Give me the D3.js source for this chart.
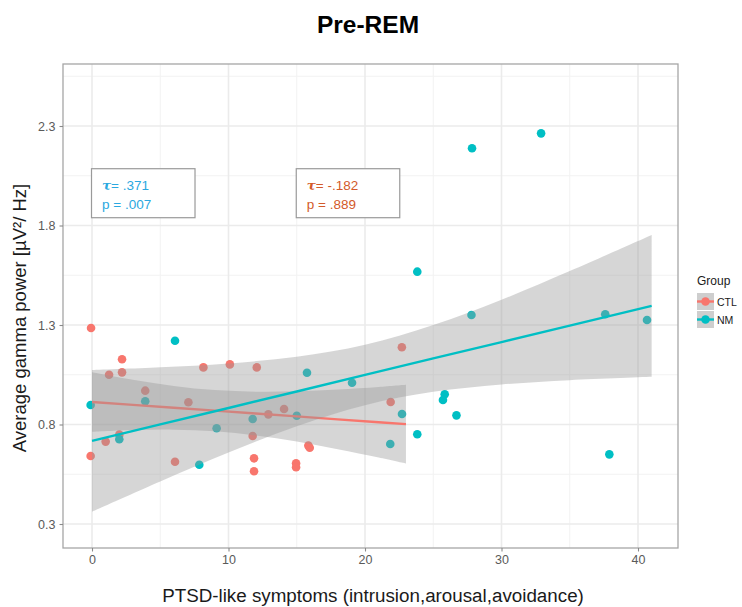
<!DOCTYPE html>
<html><head><meta charset="utf-8">
<script src="https://cdn.jsdelivr.net/npm/d3@7"></script>
<style>body{margin:0;background:#fff;} svg{display:block;font-family:"Liberation Sans",Arial,sans-serif;}</style>
</head><body><svg id="c" width="742" height="607"></svg>
<script>
// ---- data (points are jittered positions) ----
const ctlX = [-0.07,2.2,1.25,2.2,8.16,10.1,12.07,22.7,3.9,7.06,21.88,14.07,12.92,11.77,2.0,1.0,-0.1,6.08,11.87,11.87,15.85,15.95,14.95,14.95];
const ctlY = [1.285,1.128,1.050,1.062,1.087,1.102,1.087,1.188,0.970,0.912,0.913,0.878,0.851,0.742,0.749,0.714,0.642,0.613,0.630,0.565,0.694,0.683,0.605,0.585];
const nmX = [32.9,27.84,23.83,27.8,37.6,40.66,6.08,15.75,19.05,25.84,25.71,-0.1,3.9,22.71,26.7,15.0,11.77,9.13,23.83,2.0,21.85,7.86,37.9];
const nmY = [2.263,2.188,1.568,1.350,1.354,1.325,1.221,1.060,1.010,0.952,0.923,0.898,0.917,0.853,0.846,0.844,0.828,0.781,0.751,0.726,0.702,0.598,0.650];
// fitted lines and confidence ribbons
const ctlFitX = [0,3,6,9,12,15,18,21,23];
const ctlFit  = [0.913,0.8985,0.884,0.8695,0.855,0.8406,0.826,0.8116,0.802];
const ctlHi   = [1.063,1.025,0.994,0.973,0.965,0.967,0.976,0.989,1.000];
const ctlLo   = [0.763,0.772,0.774,0.766,0.745,0.714,0.676,0.634,0.604];
const nmFitX  = [0,5,10,15,20,25,30,35,41];
const nmFit   = [0.718,0.801,0.883,0.966,1.049,1.132,1.214,1.297,1.396];
const nmHi    = [1.074,1.088,1.107,1.141,1.201,1.300,1.427,1.571,1.752];
const nmLo    = [0.362,0.514,0.659,0.791,0.897,0.964,1.001,1.023,1.040];
const xTicks = [0,10,20,30,40];
const yTicks = [0.3,0.8,1.3,1.8,2.3];
const groups = ["CTL","NM"];
const colors = ["#F8766D","#00BFC4"];
const annotations = [
  {tau:".371", p:".007", color:"#2AA8E0", x:0, y:2.0},
  {tau:"-.182", p:".889", color:"#D35A2A", x:15, y:2.0}
];

const svg = d3.select("#c");
const P = {l:63, r:678, t:64, b:548};
const x = d3.scaleLinear().domain([-2.125, 42.93]).range([P.l, P.r]);
const y = d3.scaleLinear().domain([0.1794, 2.6116]).range([P.b, P.t]);

// grid
const g = svg.append("g");
const xMinor = [5,15,25,35], yMinor = [0.55,1.05,1.55,2.05,2.55];
g.selectAll(".xm").data(xMinor).join("line").attr("x1",d=>x(d)).attr("x2",d=>x(d)).attr("y1",P.t).attr("y2",P.b).attr("stroke","#F2F2F2").attr("stroke-width",1);
g.selectAll(".ym").data(yMinor).join("line").attr("x1",P.l).attr("x2",P.r).attr("y1",d=>y(d)).attr("y2",d=>y(d)).attr("stroke","#F2F2F2").attr("stroke-width",1);
g.selectAll(".xM").data(xTicks).join("line").attr("x1",d=>x(d)).attr("x2",d=>x(d)).attr("y1",P.t).attr("y2",P.b).attr("stroke","#EBEBEB").attr("stroke-width",1.6);
g.selectAll(".yM").data(yTicks).join("line").attr("x1",P.l).attr("x2",P.r).attr("y1",d=>y(d)).attr("y2",d=>y(d)).attr("stroke","#EBEBEB").attr("stroke-width",1.6);

// points
const pts = svg.append("g");
pts.selectAll(".c").data(ctlX.map((v,i)=>[v,ctlY[i]])).join("circle").attr("cx",d=>x(d[0])).attr("cy",d=>y(d[1])).attr("r",4.3).attr("fill",colors[0]);
pts.selectAll(".n").data(nmX.map((v,i)=>[v,nmY[i]])).join("circle").attr("cx",d=>x(d[0])).attr("cy",d=>y(d[1])).attr("r",4.3).attr("fill",colors[1]);

// ribbons + lines
function smooth(fx, fit, hi, lo, col){
  const area = d3.area().x((d,i)=>x(fx[i])).y0((d,i)=>y(lo[i])).y1((d,i)=>y(hi[i])).curve(d3.curveCatmullRom);
  svg.append("path").attr("d",area(fx)).attr("fill","#999999").attr("fill-opacity",0.4);
  const line = d3.line().x((d,i)=>x(fx[i])).y((d,i)=>y(fit[i]));
  svg.append("path").attr("d",line(fx)).attr("fill","none").attr("stroke",col).attr("stroke-width",2.4);
}
smooth(ctlFitX, ctlFit, ctlHi, ctlLo, colors[0]);
smooth(nmFitX, nmFit, nmHi, nmLo, colors[1]);

// annotation boxes
annotations.forEach(a=>{
  const bx = x(a.x), by = y(a.y);
  const gg = svg.append("g");
  gg.append("rect").attr("x",bx-0.5).attr("y",by-17).attr("width",103.5).attr("height",49).attr("fill","#fff").attr("stroke","#9A9A9A").attr("stroke-width",1.2);
  const t1 = gg.append("text").attr("x",bx+10).attr("y",by+4).attr("font-size",13.5).attr("fill",a.color);
  t1.append("tspan").attr("font-style","italic").attr("font-weight","bold").attr("font-family","'DejaVu Serif',serif").text("τ");
  t1.append("tspan").text("= "+a.tau);
  gg.append("text").attr("x",bx+10).attr("y",by+23).attr("font-size",13.5).attr("fill",a.color).text("p = "+a.p);
});

// panel border
svg.append("rect").attr("x",P.l).attr("y",P.t).attr("width",P.r-P.l).attr("height",P.b-P.t).attr("fill","none").attr("stroke","#A6A6A6").attr("stroke-width",1.3);

// axes
const xa = svg.append("g").attr("transform",`translate(0,${P.b})`).call(d3.axisBottom(x).tickValues(xTicks).tickSize(3.5).tickPadding(4).tickFormat(d3.format("d")));
const ya = svg.append("g").attr("transform",`translate(${P.l},0)`).call(d3.axisLeft(y).tickValues(yTicks).tickSize(3.5).tickPadding(4).tickFormat(d3.format(".1f")));
[xa,ya].forEach(a=>{
  a.select(".domain").remove();
  a.selectAll(".tick line").attr("stroke","#8A8A8A").attr("stroke-width",1.1);
  a.selectAll(".tick text").attr("fill","#5a5a5a").attr("font-size",12.5).attr("font-family","'Liberation Sans',Arial,sans-serif");
});

// titles
svg.append("text").attr("x",368).attr("y",33).attr("text-anchor","middle").attr("font-size",24.5).attr("font-weight","bold").attr("fill","#000").text("Pre-REM");
svg.append("text").attr("x",373).attr("y",602).attr("text-anchor","middle").attr("font-size",18.8).attr("fill","#1a1a1a").text("PTSD-like symptoms (intrusion,arousal,avoidance)");
svg.append("text").attr("transform","translate(26,318) rotate(-90)").attr("text-anchor","middle").attr("font-size",18.5).attr("fill","#1a1a1a").text("Average gamma power [µV²/ Hz]");

// legend
const L = svg.append("g");
L.append("text").attr("x",697).attr("y",285).attr("font-size",12).attr("fill","#1a1a1a").text("Group");
groups.forEach((gname,i)=>{
  const ky = 293 + i*18;
  L.append("rect").attr("x",697).attr("y",ky).attr("width",17).attr("height",17).attr("fill","#F2F2F2");
  L.append("rect").attr("x",697).attr("y",ky).attr("width",17).attr("height",17).attr("fill","#999").attr("fill-opacity",0.4);
  L.append("line").attr("x1",697).attr("x2",714).attr("y1",ky+8.5).attr("y2",ky+8.5).attr("stroke",colors[i]).attr("stroke-width",2.4);
  L.append("circle").attr("cx",705.5).attr("cy",ky+8.5).attr("r",4.3).attr("fill",colors[i]);
  L.append("text").attr("x",717).attr("y",ky+12.5).attr("font-size",10.5).attr("fill","#1a1a1a").text(gname);
});
</script></body></html>
